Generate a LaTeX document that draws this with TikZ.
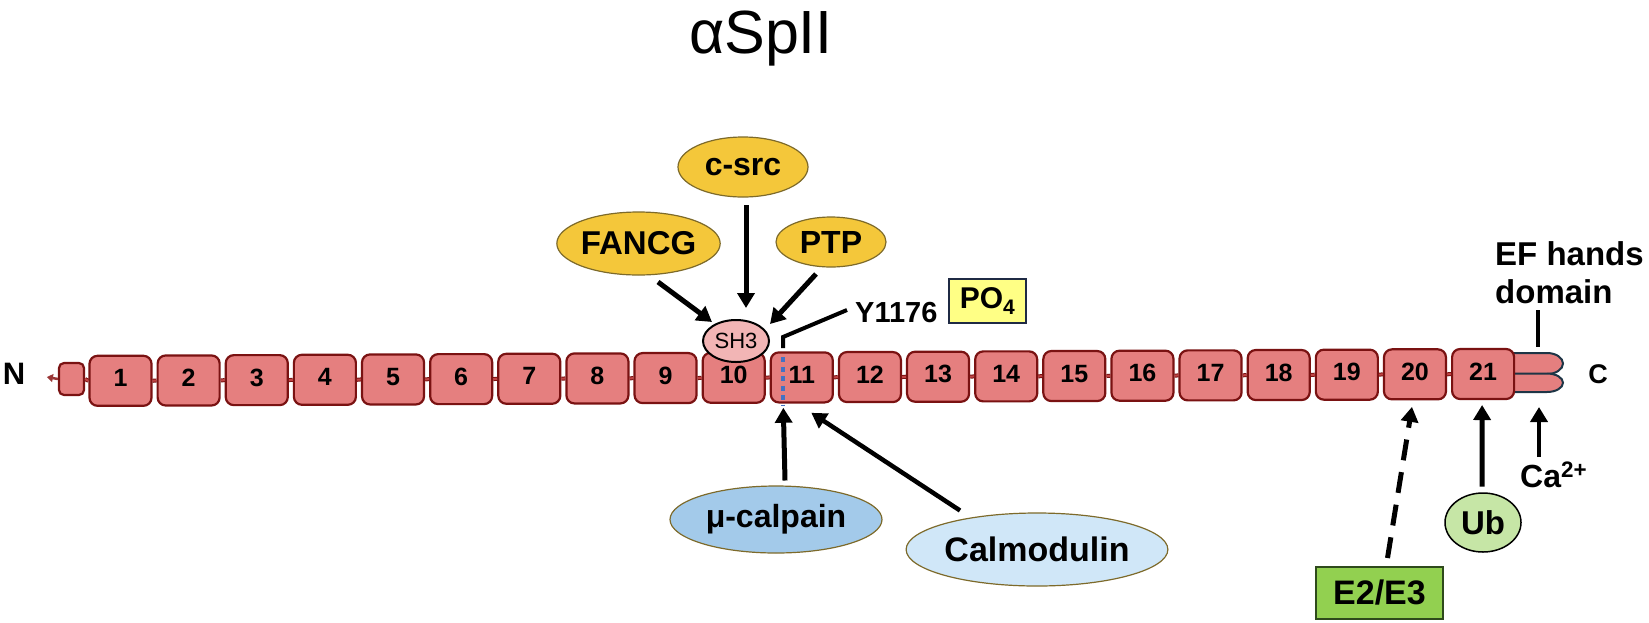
\documentclass[tikz,border=0pt]{standalone}
\usepackage{fontspec}
\setmainfont{Liberation Sans}
\usetikzlibrary{shapes.geometric,arrows.meta,calc}
\definecolor{boxfill}{HTML}{E57F7F}
\definecolor{boxline}{HTML}{7A1212}
\definecolor{yelA}{HTML}{F4C73A}
\definecolor{yelB}{HTML}{D9A51C}
\definecolor{bluA}{HTML}{A3CAEA}
\definecolor{bluB}{HTML}{7EA8D0}
\definecolor{lbluA}{HTML}{D0E7F8}
\definecolor{lbluB}{HTML}{A6C7E4}
\definecolor{ellline}{HTML}{7D6A2A}
\definecolor{sh3fill}{HTML}{F2B5B5}
\definecolor{pofill}{HTML}{FFFF85}
\definecolor{poline}{HTML}{1F2A44}
\definecolor{ubfill}{HTML}{C6E6A6}
\definecolor{e2fill}{HTML}{92D050}
\definecolor{e2line}{HTML}{2E4A1C}
\definecolor{efline}{HTML}{1E3546}
\definecolor{dotblue}{HTML}{4472C4}
\definecolor{linkred}{HTML}{C04545}
\pgfdeclareradialshading{yelshade}{\pgfpointorigin}{color(0bp)=(yelA); color(30bp)=(yelA); color(50bp)=(yelB)}
\pgfdeclareradialshading{blushade}{\pgfpointorigin}{color(0bp)=(bluA); color(30bp)=(bluA); color(50bp)=(bluB)}
\pgfdeclareradialshading{lblushade}{\pgfpointorigin}{color(0bp)=(lbluA); color(30bp)=(lbluA); color(50bp)=(lbluB)}
\begin{document}
\begin{tikzpicture}[x=1pt,y=-1pt,
  dbox/.style={rectangle, rounded corners=8pt, minimum width=62pt, minimum height=50pt,
    fill=boxfill, draw=boxline, line width=2.2pt, inner sep=0pt,
    font=\bfseries\fontsize{25}{25}\selectfont, text height=18pt, text depth=6pt},
  link/.style={draw=boxline, line width=1pt, double=linkred, double distance=2pt},
  ellbase/.style={ellipse, inner sep=0pt, draw=ellline, line width=1.2pt},
  yell/.style={ellbase, shading=yelshade, font=\bfseries\fontsize{32}{32}\selectfont},
  mu/.style={ellbase, shading=blushade, font=\bfseries\fontsize{32}{32}\selectfont},
  calm/.style={ellbase, shading=lblushade, font=\bfseries\fontsize{34}{34}\selectfont},
  sh3/.style={ellipse, inner sep=0pt, fill=sh3fill, draw=black, line width=2pt,
    minimum width=66pt, minimum height=42pt, font=\fontsize{22}{22}\selectfont},
  ubn/.style={ellipse, inner sep=0pt, fill=ubfill, draw=black, line width=1.5pt,
    minimum width=76pt, minimum height=59pt, font=\bfseries\fontsize{33}{33}\selectfont},
  e2n/.style={rectangle, inner sep=0pt, fill=e2fill, draw=e2line, line width=1.5pt,
    minimum width=127pt, minimum height=52pt, font=\bfseries\fontsize{34}{34}\selectfont},
  pon/.style={rectangle, inner sep=0pt, fill=pofill, draw=poline, line width=2pt,
    minimum width=77pt, minimum height=44pt, font=\bfseries\fontsize{30}{30}\selectfont},
  lbl/.style={inner sep=0pt, font=\bfseries\fontsize{#1}{#1}\selectfont},
  arr/.style={line width=5pt, -{Triangle[width=17pt,length=15pt]}},
  dasharr/.style={arr, dash pattern=on 21pt off 12pt},
  lead/.style={line width=4.5pt},
  lobe/.style={fill=boxfill, draw=efline, line width=2pt}
]
\useasboundingbox (0,0) rectangle (1649,622);

% title
\node[anchor=base, inner sep=0pt, font=\fontsize{61}{61}\selectfont] (title) at (761,53) {αSpII};

% EF hand lobes (under box 21)
\draw[lobe] (1505,353) -- (1547,353) arc[start angle=-90, end angle=90, x radius=16, y radius=10.5] -- (1505,374);
\draw[lobe] (1505,373.5) -- (1547,373.5) arc[start angle=-90, end angle=90, x radius=16, y radius=9.25] -- (1505,392);

% domain boxes
\node[dbox, minimum width=25pt, minimum height=32pt, rounded corners=5pt] (b0) at (71.5,379) {};
\foreach \i in {1,...,21}{
  \node[dbox] (b\i) at ({120.5+(\i-1)*68.13},{380.8-0.34*(\i-1)}) {\i};
}
\draw[link] (b0.east) -- (b1.west);
\foreach \i [evaluate=\i as \j using int(\i+1)] in {1,...,20}{
  \draw[link] (b\i.east) -- (b\j.west);
}
\draw[linkred!80!black, line width=2.5pt, -{Triangle[width=8pt,length=6pt]}] (b0.west) -- ++(-11,-2);

% end labels
\node[lbl=31] (N) at (14,374) {N};
\node[lbl=27] (C) at (1598,374) {C};
\node[lbl=33, anchor=base west] (ef1) at (1495,265) {EF hands};
\node[lbl=33, anchor=base west] (ef2) at (1495,303) {domain};
\coordinate (eftop) at (1538,347);
\draw[lead] ($(ef2.base west)+(43,7)$) -- (eftop);

% cleavage site marker on domain 11
\coordinate (cutA) at (783,357);
\coordinate (cutB) at (783,405);
\draw[dotblue, line width=4pt, dash pattern=on 5pt off 4.5pt] (cutA) -- (cutB);

% SH3 and partners
\node[sh3] (sh3) at (736,341) {SH3};
\node[yell, minimum width=153pt, minimum height=63pt, font=\bfseries\fontsize{33}{33}\selectfont] (fancg) at (638.5,243.5) {FANCG};
\node[yell, minimum width=130pt, minimum height=60pt] (csrc) at (743,167) {c-src};
\node[yell, minimum width=110pt, minimum height=50pt] (ptp) at (831,242) {PTP};
\draw[arr] ($(fancg.center)+(19.5,38.5)$) -- ($(sh3.center)+(-24,-19)$);
\draw[arr] ($(csrc.center)+(3,38)$) -- ($(sh3.center)+(10,-33)$);
\draw[arr] ($(ptp.center)+(-15,32)$) -- ($(sh3.center)+(34,-17)$);

% Y1176 phosphorylation
\node[lbl=29, anchor=base west] (y1176) at (855,322) {Y1176};
\node[pon] (po) at (987.5,301) {PO\textsubscript{4}};
\coordinate (ytick) at (783,348);
\draw[lead, line width=4pt] (ytick) -- ++(0,-11) -- ($(y1176.base west)+(-8,-12)$);

% calpain and calmodulin
\node[mu, minimum width=212pt, minimum height=67pt] (mu) at (776,519.5) {μ-calpain};
\node[calm, minimum width=260pt, minimum height=73pt] (calm) at (1037,549.5) {Calmodulin};
\draw[arr] ($(mu.center)+(9,-39)$) -- ($(b11.center)+(-18.5,30.4)$);
\draw[arr, line width=4.5pt] ($(calm.center)+(-77,-39)$) -- ($(b11.center)+(9.5,35.4)$);

% ubiquitination
\node[e2n] (e2) at (1379.5,593) {E2/E3};
\node[ubn] (ub) at (1483,522.5) {Ub};
\draw[dasharr] ($(e2.center)+(8,-35)$) -- ($(b20.center)+(-3,32.5)$);
\draw[arr] ($(ub.center)+(-1,-36)$) -- ($(b21.center)+(-1,31)$);

% calcium
\node[lbl=32, anchor=base west] (ca) at (1520,487) {Ca\textsuperscript{2+}};
\coordinate (catip) at (1539,407);
\draw[arr, line width=4.5pt] ($(ca.base west)+(19,-30)$) -- (catip);
\end{tikzpicture}
\end{document}
